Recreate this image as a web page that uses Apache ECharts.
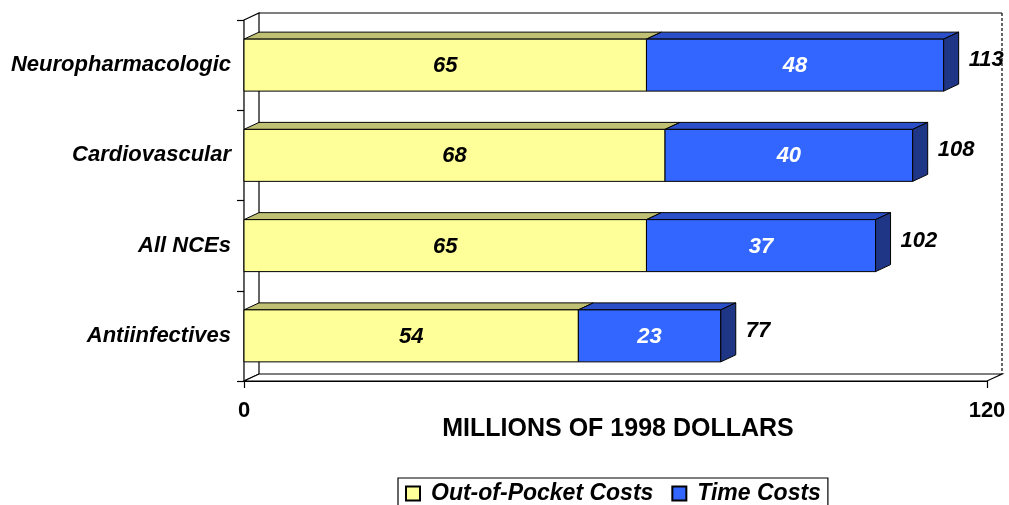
<!DOCTYPE html>
<html>
<head>
<meta charset="utf-8">
<script src="https://cdn.jsdelivr.net/npm/echarts@6/dist/echarts.min.js"></script>
<style>
  html, body { margin: 0; padding: 0; background: #fff; }
  #chart { width: 1009px; height: 505px; }
</style>
</head>
<body>
<div id="chart"></div>
<script>
  // chart data
  const CATEGORIES = ['Neuropharmacologic', 'Cardiovascular', 'All NCEs', 'Antiinfectives'];
  const OUT_OF_POCKET = [65, 68, 65, 54];
  const TIME_COSTS = [48, 40, 37, 23];
  const TOTALS = [113, 108, 102, 77];
  const X_MIN = 0, X_MAX = 120;
  const X_TITLE = 'MILLIONS OF 1998 DOLLARS';
  const SERIES_NAMES = ['Out-of-Pocket Costs', 'Time Costs'];

  // style
  const FONT = '"Liberation Sans", Arial, sans-serif';
  const DX = 15, DY = -7;      // 3d depth offset
  const BAR_RATIO = 0.576;
  const YELLOW = { front: '#FFFF99', top: '#C0C074', side: '#9A9A50' };
  const BLUE = { front: '#3366FF', top: '#2A4FC8', side: '#1F3586' };

  function labelFont(size) {
    return 'italic bold ' + size + 'px ' + FONT;
  }

  function renderBox(colors, withSide, labelColor, withTotal) {
    return function (params, api) {
      const cat = api.value(2);
      const p0 = api.coord([api.value(0), cat]);
      const p1 = api.coord([api.value(1), cat]);
      const h = api.size([0, 1])[1] * BAR_RATIO;
      const x0 = p0[0], x1 = p1[0];
      const yt = p0[1] - h / 2, yb = p0[1] + h / 2;
      const edge = { stroke: '#000', lineWidth: 1 };
      const children = [
        { type: 'polygon', shape: { points: [[x0, yt], [x0 + DX, yt + DY], [x1 + DX, yt + DY], [x1, yt]] },
          style: Object.assign({ fill: colors.top }, edge) },
        { type: 'rect', shape: { x: x0, y: yt, width: x1 - x0, height: h },
          style: Object.assign({ fill: colors.front }, edge) },
        { type: 'text', style: { text: String(api.value(3)), x: (x0 + x1) / 2, y: p0[1] + 1,
          align: 'center', verticalAlign: 'middle', font: labelFont(22), fill: labelColor } }
      ];
      if (withSide) {
        children.push({ type: 'polygon',
          shape: { points: [[x1, yt], [x1 + DX, yt + DY], [x1 + DX, yb + DY], [x1, yb]] },
          style: Object.assign({ fill: colors.side }, edge) });
      }
      if (withTotal) {
        children.push({ type: 'text', style: { text: String(api.value(4)), x: x1 + DX + 10, y: p0[1] - 5,
          align: 'left', verticalAlign: 'middle', font: labelFont(22), fill: '#000' } });
      }
      return { type: 'group', children: children };
    };
  }

  function renderWalls(params, api) {
    const cs = params.coordSys;
    const L = cs.x, T = cs.y, R = cs.x + cs.width, B = cs.y + cs.height;
    const line = { stroke: '#000', lineWidth: 1.2 };
    return {
      type: 'group',
      children: [
        { type: 'polygon', shape: { points: [[L + DX, T + DY], [R + DX, T + DY], [R + DX, B + DY], [L + DX, B + DY]] },
          style: { fill: '#fff' } },
        { type: 'line', shape: { x1: L + DX, y1: T + DY, x2: R + DX, y2: T + DY }, style: line },
        { type: 'line', shape: { x1: R + DX, y1: T + DY, x2: R + DX, y2: B + DY },
          style: { stroke: '#000', lineWidth: 1.2, lineDash: [3, 2] } },
        { type: 'polygon', shape: { points: [[L, T], [L + DX, T + DY], [L + DX, B + DY], [L, B]] },
          style: Object.assign({ fill: '#fff' }, line) },
        { type: 'polygon', shape: { points: [[L, B], [L + DX, B + DY], [R + DX, B + DY], [R, B]] },
          style: Object.assign({ fill: '#fff' }, line) }
      ]
    };
  }

  const oopData = OUT_OF_POCKET.map((v, i) => [0, v, i, v]);
  const timeData = TIME_COSTS.map((v, i) => [OUT_OF_POCKET[i], OUT_OF_POCKET[i] + v, i, v, TOTALS[i]]);

  const myChart = echarts.init(document.getElementById('chart'), null, { renderer: 'canvas' });
  myChart.setOption({
    animation: false,
    backgroundColor: '#fff',
    title: {
      text: X_TITLE,
      left: 618,
      top: 417,
      textAlign: 'center',
      padding: 0,
      textStyle: { fontFamily: FONT, fontSize: 25, fontWeight: 'bold', color: '#000' }
    },
    grid: { left: 244, right: 22, top: 20, bottom: 124, containLabel: false },
    legend: {
      data: SERIES_NAMES,
      left: 398,
      top: 478,
      icon: 'rect',
      itemWidth: 14,
      itemHeight: 14,
      itemGap: 18,
      padding: [4, 7, 4, 7],
      borderColor: '#000',
      borderWidth: 1.2,
      textStyle: { fontFamily: FONT, fontSize: 23, fontWeight: 'bold', fontStyle: 'italic', color: '#000', padding: [0, 0, 0, 6] }
    },
    xAxis: {
      type: 'value',
      min: X_MIN,
      max: X_MAX,
      interval: 120,
      axisLine: { show: true, lineStyle: { color: '#000', width: 1.2 } },
      axisTick: { show: true, length: 7, lineStyle: { color: '#000', width: 1.2 } },
      axisLabel: { margin: 19, fontFamily: FONT, fontSize: 22, fontWeight: 'bold', color: '#000' },
      splitLine: { show: false }
    },
    yAxis: {
      type: 'category',
      inverse: true,
      data: CATEGORIES,
      axisLine: { show: true, lineStyle: { color: '#000', width: 1.2 } },
      axisTick: { show: true, length: 7, lineStyle: { color: '#000', width: 1.2 } },
      axisLabel: { margin: 13, fontFamily: FONT, fontSize: 22, fontWeight: 'bold', fontStyle: 'italic', color: '#000' },
      splitLine: { show: false }
    },
    series: [
      {
        name: 'walls',
        type: 'custom',
        z: 1,
        silent: true,
        renderItem: renderWalls,
        data: [[0, 0]],
        encode: { x: 0, y: 1 }
      },
      {
        name: SERIES_NAMES[0],
        type: 'custom',
        z: 3,
        itemStyle: { color: YELLOW.front, borderColor: '#000', borderWidth: 1 },
        renderItem: renderBox(YELLOW, false, '#000', false),
        data: oopData,
        encode: { x: [0, 1], y: 2 }
      },
      {
        name: SERIES_NAMES[1],
        type: 'custom',
        z: 4,
        itemStyle: { color: BLUE.front, borderColor: '#000', borderWidth: 1 },
        renderItem: renderBox(BLUE, true, '#fff', true),
        data: timeData,
        encode: { x: [0, 1], y: 2 }
      }
    ]
  });
</script>
</body>
</html>
